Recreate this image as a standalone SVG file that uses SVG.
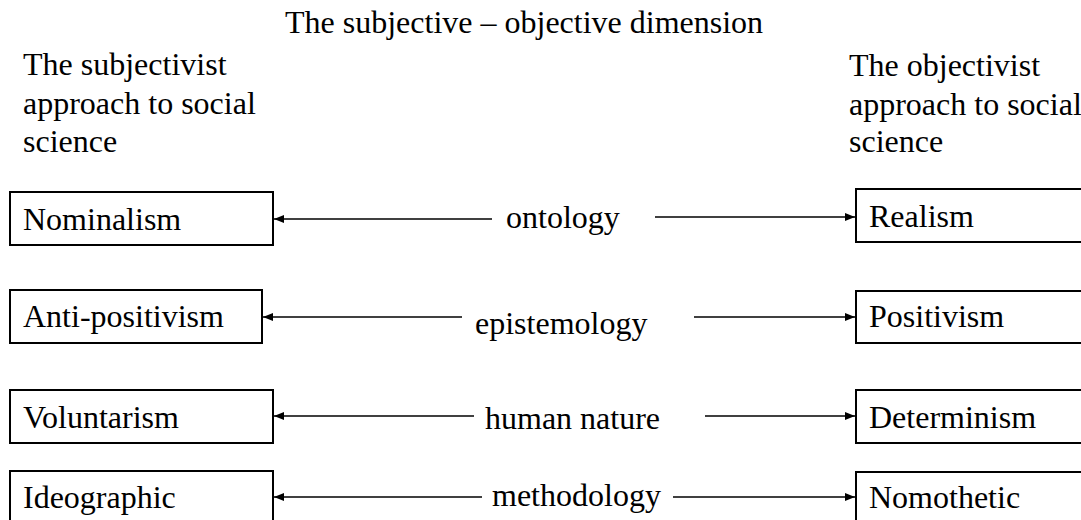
<svg xmlns="http://www.w3.org/2000/svg" width="1081" height="520" viewBox="0 0 1081 520" font-family="'Liberation Serif', 'DejaVu Serif', serif">
<style>
text{font-family:'Liberation Serif','DejaVu Serif',serif;font-size:32px;fill:#000}
.box{fill:#fff;stroke:#000;stroke-width:2}
.conn line{stroke:#000;stroke-width:1.7}
</style>
<defs>
<marker id="ah" viewBox="0 0 10 8" refX="10" refY="4" markerWidth="10" markerHeight="8" markerUnits="userSpaceOnUse" orient="auto">
<path d="M0,0 L10,4 L0,8 Z" fill="#000"/>
</marker>
</defs>
<rect width="1081" height="520" fill="#fff"/>
<g id="title"><text x="285" y="33">The subjective – objective dimension</text></g>
<g id="subjectivist-header"><text x="23" y="75">The subjectivist</text><text x="23" y="114">approach to social</text><text x="23" y="152">science</text></g>
<g id="objectivist-header"><text x="849" y="76">The objectivist</text><text x="849" y="115">approach to social</text><text x="849" y="152">science</text></g>

<g id="nominalism"><rect class="box" x="10" y="192" width="263" height="53"/><text x="23" y="230">Nominalism</text></g>
<g id="antipositivism"><rect class="box" x="10" y="290" width="252" height="53"/><text x="23" y="327">Anti-positivism</text></g>
<g id="voluntarism"><rect class="box" x="10" y="390" width="263" height="53"/><text x="23" y="428">Voluntarism</text></g>
<g id="ideographic"><rect class="box" x="10" y="471" width="263" height="60"/><text x="23" y="508">Ideographic</text></g>

<g id="realism"><rect class="box" x="856" y="189" width="240" height="53"/><text x="869" y="227">Realism</text></g>
<g id="positivism"><rect class="box" x="856" y="291" width="240" height="52"/><text x="869" y="327">Positivism</text></g>
<g id="determinism"><rect class="box" x="856" y="390" width="240" height="53"/><text x="869" y="428">Determinism</text></g>
<g id="nomothetic"><rect class="box" x="856" y="472" width="240" height="60"/><text x="869" y="508">Nomothetic</text></g>

<g id="labels">
<text x="506" y="228">ontology</text>
<text x="475" y="334">epistemology</text>
<text x="485" y="429">human nature</text>
<text x="492" y="506">methodology</text>
</g>

<g class="conn" id="connectors">
<line x1="492" y1="219" x2="274" y2="219" marker-end="url(#ah)"/>
<line x1="655" y1="217" x2="855" y2="217" marker-end="url(#ah)"/>
<line x1="462" y1="317" x2="263" y2="317" marker-end="url(#ah)"/>
<line x1="694" y1="317" x2="855" y2="317" marker-end="url(#ah)"/>
<line x1="474" y1="416" x2="274" y2="416" marker-end="url(#ah)"/>
<line x1="705" y1="416" x2="855" y2="416" marker-end="url(#ah)"/>
<line x1="482" y1="497" x2="274" y2="497" marker-end="url(#ah)"/>
<line x1="673" y1="497" x2="855" y2="497" marker-end="url(#ah)"/>
</g>
</svg>
